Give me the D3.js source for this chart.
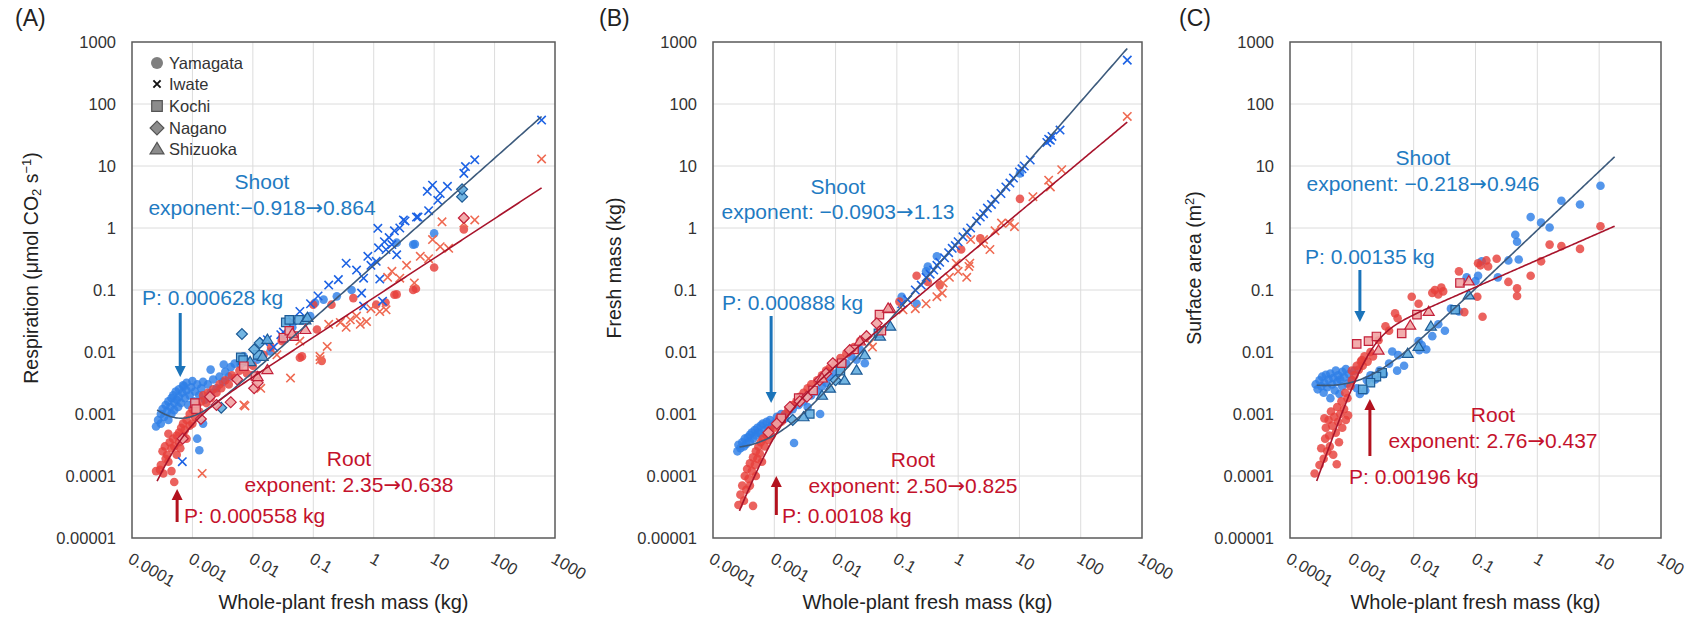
<!DOCTYPE html>
<html>
<head>
<meta charset="utf-8">
<script src="https://cdn.jsdelivr.net/npm/d3@7"></script>
<style>
body { margin: 0; background: #fff; }
svg text { font-family: "Liberation Sans", Arial, sans-serif; }
</style>
</head>
<body>
<svg id="canvas" width="1698" height="624"></svg>
<script>
// ---- axis ticks ----
let massTicks = [1e-4, 1e-3, 1e-2, 1e-1, 1, 10, 100, 1000]
let massTickLabels = ["0.0001", "0.001", "0.01", "0.1", "1", "10", "100", "1000"]
let valueTicks = [1e-5, 1e-4, 1e-3, 1e-2, 1e-1, 1, 10, 100, 1000]
let valueTickLabels = ["0.00001", "0.0001", "0.001", "0.01", "0.1", "1", "10", "100", "1000"]

let siteNames = ["Yamagata", "Iwate", "Kochi", "Nagano", "Shizuoka"]
let siteCodes = ["Y", "I", "K", "N", "S"]

// ---- (A) respiration, [whole-plant mass kg, value, site] ----
let respShoot = [
  [2.5e-4, 6.3e-4, "Y"], [2.7e-4, 8e-4, "Y"], [3e-4, 1e-3, "Y"], [3e-4, 7e-4, "Y"], [3.2e-4, 1.2e-3, "Y"],
  [3.4e-4, 9e-4, "Y"], [3.6e-4, 1.4e-3, "Y"], [3.8e-4, 1.1e-3, "Y"], [4e-4, 1.6e-3, "Y"], [4e-4, 8e-4, "Y"],
  [4.3e-4, 1.3e-3, "Y"], [4.5e-4, 1.8e-3, "Y"], [4.5e-4, 1e-3, "Y"], [4.8e-4, 2e-3, "Y"], [5e-4, 1.5e-3, "Y"],
  [5e-4, 1.15e-3, "Y"], [5.3e-4, 2.3e-3, "Y"], [5.5e-4, 1.7e-3, "Y"], [5.8e-4, 1.3e-3, "Y"], [6e-4, 2.5e-3, "Y"],
  [6e-4, 1.9e-3, "Y"], [6.5e-4, 1.5e-3, "Y"], [6.8e-4, 2.2e-3, "Y"], [7e-4, 2.9e-3, "Y"], [7.2e-4, 2.8e-3, "Y"],
  [7.5e-4, 1.8e-3, "Y"], [8e-4, 2.4e-3, "Y"], [8e-4, 3.2e-3, "Y"], [8.5e-4, 1.4e-3, "Y"], [9e-4, 2e-3, "Y"],
  [9.5e-4, 2.7e-3, "Y"], [1e-3, 3.4e-3, "Y"], [1.05e-3, 1.6e-3, "Y"], [1.1e-3, 2.3e-3, "Y"], [1.2e-3, 3e-3, "Y"],
  [1.3e-3, 2e-3, "Y"], [1.4e-3, 2.6e-3, "Y"], [1.5e-3, 3.3e-3, "Y"], [1.6e-3, 1.7e-3, "Y"], [1.2e-3, 4e-4, "Y"],
  [1.3e-3, 2.6e-4, "Y"], [1.5e-3, 7e-4, "Y"], [1.8e-3, 3e-3, "Y"], [2e-3, 5.2e-3, "Y"], [2e-3, 2.2e-3, "Y"],
  [2.2e-3, 3.6e-3, "Y"], [2.5e-3, 2.6e-3, "Y"], [2.8e-3, 4e-3, "Y"], [3.2e-3, 3.3e-3, "Y"], [3.3e-3, 6.3e-3, "Y"],
  [3.5e-3, 4.8e-3, "Y"], [4e-3, 4e-3, "Y"], [4.3e-3, 5.7e-3, "Y"], [5e-3, 6.5e-3, "Y"], [6.3e-3, 6.3e-3, "Y"],
  [7e-3, 8.5e-3, "Y"], [8e-3, 7e-3, "Y"], [0.0118, 7.5e-3, "Y"], [0.0195, 0.0102, "Y"], [0.032, 0.016, "Y"],
  [0.045, 0.025, "Y"], [0.089, 0.038, "Y"], [0.107, 0.062, "Y"], [0.148, 0.07, "Y"], [0.245, 0.079, "Y"],
  [0.43, 0.1, "Y"], [2.4, 0.58, "Y"], [4.5, 0.54, "Y"], [4.8, 0.55, "Y"], [10, 0.82, "Y"],
  [6.8e-4, 1.7e-4, "I"], [0.0174, 0.0158, "I"], [0.015, 0.0148, "I"], [0.029, 0.019, "I"], [0.032, 0.021, "I"],
  [0.06, 0.045, "I"], [0.09, 0.06, "I"], [0.12, 0.08, "I"], [0.18, 0.12, "I"], [0.26, 0.147, "I"],
  [0.35, 0.27, "I"], [0.52, 0.21, "I"], [0.63, 0.089, "I"], [0.68, 0.055, "I"], [0.68, 0.155, "I"],
  [0.8, 0.35, "I"], [0.9, 0.25, "I"], [1.1, 0.29, "I"], [1.2, 0.48, "I"], [1.26, 0.15, "I"],
  [1.4, 0.066, "I"], [1.5, 0.6, "I"], [1.6, 0.45, "I"], [1.8, 0.7, "I"], [2.0, 0.54, "I"],
  [2.2, 0.9, "I"], [2.4, 0.37, "I"], [1.17, 0.99, "I"], [2.7, 1.0, "I"], [3.1, 1.35, "I"],
  [3.3, 1.3, "I"], [5.1, 1.5, "I"], [5.4, 1.5, "I"], [8.1, 1.9, "I"], [7.7, 3.9, "I"],
  [9.4, 4.9, "I"], [12.6, 3.6, "I"], [16.6, 4.7, "I"], [11.5, 2.8, "I"], [31, 7.6, "I"],
  [33, 9.8, "I"], [47, 12.6, "I"], [600, 55, "I"], [0.045, 0.032, "I"], [0.022, 0.012, "I"],
  [6.3e-3, 8.2e-3, "K"], [6.9e-3, 7.4e-3, "K"], [0.035, 0.03, "K"], [0.04, 0.033, "K"], [0.058, 0.033, "K"], [0.012, 9e-3, "K"],
  [6.6e-3, 0.0195, "N"], [0.0105, 0.011, "N"], [3e-3, 1.26e-3, "N"], [0.013, 0.014, "N"], [29, 3.2, "N"], [29, 4.2, "N"],
  [0.0174, 0.016, "S"], [0.0145, 8.5e-3, "S"], [0.074, 0.033, "S"], [0.08, 0.036, "S"], [9e-3, 7e-3, "S"]
]
let respRoot = [
  [2.5e-4, 1.2e-4, "Y"], [2.9e-4, 1.26e-4, "Y"], [3e-4, 1.5e-4, "Y"], [3.2e-4, 2.5e-4, "Y"], [3.3e-4, 1.1e-4, "Y"],
  [3.5e-4, 3e-4, "Y"], [3.6e-4, 1.9e-4, "Y"], [3.8e-4, 2.2e-4, "Y"], [4e-4, 1.7e-4, "Y"], [4e-4, 4.8e-4, "Y"],
  [4.2e-4, 3.5e-4, "Y"], [4.5e-4, 1.2e-4, "Y"], [4.5e-4, 2.8e-4, "Y"], [4.8e-4, 4e-4, "Y"], [5e-4, 8e-5, "Y"],
  [5e-4, 3e-4, "Y"], [5.5e-4, 4.5e-4, "Y"], [5.5e-4, 2.2e-4, "Y"], [6e-4, 5e-4, "Y"], [6e-4, 3.5e-4, "Y"],
  [6.3e-4, 2.8e-4, "Y"], [6.5e-4, 6e-4, "Y"], [7e-4, 4.5e-4, "Y"], [7e-4, 7e-4, "Y"], [7.5e-4, 5.5e-4, "Y"],
  [8e-4, 8e-4, "Y"], [8e-4, 4e-4, "Y"], [9e-4, 1e-3, "Y"], [9e-4, 6.5e-4, "Y"], [1e-3, 1.2e-3, "Y"],
  [1e-3, 7e-4, "Y"], [1.1e-3, 9e-4, "Y"], [1.2e-3, 1.4e-3, "Y"], [1.3e-3, 1.1e-3, "Y"], [1.4e-3, 1.6e-3, "Y"],
  [1.5e-3, 2e-3, "Y"], [1.7e-3, 1.5e-3, "Y"], [1.8e-3, 2.2e-3, "Y"], [2e-3, 1.8e-3, "Y"], [2.2e-3, 2.5e-3, "Y"],
  [2.5e-3, 2.2e-3, "Y"], [2.8e-3, 3e-3, "Y"], [3e-3, 2.6e-3, "Y"], [3.5e-3, 3.5e-3, "Y"], [4e-3, 3e-3, "Y"],
  [4.5e-3, 4.2e-3, "Y"], [5e-3, 3.8e-3, "Y"], [6e-3, 5e-3, "Y"], [8e-3, 4.5e-3, "Y"], [0.01, 6e-3, "Y"],
  [0.015, 9e-3, "Y"], [0.02, 0.012, "Y"], [0.03, 0.015, "Y"], [0.06, 8.1e-3, "Y"],
  [0.065, 8.5e-3, "Y"], [0.138, 7.2e-3, "Y"], [0.1, 0.058, "Y"], [0.115, 0.023, "Y"], [0.2, 0.058, "Y"],
  [0.46, 0.074, "Y"], [1.1, 0.058, "Y"], [1.57, 0.063, "Y"], [2.2, 0.084, "Y"], [2.4, 0.085, "Y"],
  [4.5, 0.1, "Y"], [5, 0.105, "Y"], [10, 0.23, "Y"], [31, 0.95, "Y"],
  [600, 13, "I"], [13.5, 1.26, "I"], [47, 1.35, "I"], [31, 1.2, "I"], [9.4, 0.65, "I"],
  [12.6, 0.5, "I"], [17.4, 0.47, "I"], [8.1, 0.32, "I"], [5.9, 0.35, "I"], [4.7, 0.13, "I"],
  [1.7, 0.16, "I"], [2.7, 0.155, "I"], [2.0, 0.2, "I"], [3.5, 0.25, "I"], [0.18, 0.028, "I"],
  [0.28, 0.03, "I"], [0.35, 0.025, "I"], [0.41, 0.033, "I"], [0.52, 0.038, "I"], [0.6, 0.028, "I"],
  [0.76, 0.031, "I"], [0.9, 0.05, "I"], [1.26, 0.045, "I"], [1.6, 0.048, "I"], [0.17, 0.0123, "I"],
  [0.13, 7.5e-3, "I"], [0.042, 3.8e-3, "I"], [7.1e-3, 1.4e-3, "I"], [0.0135, 2.6e-3, "I"], [1.45e-3, 1.1e-4, "I"],
  [7.4e-3, 1.35e-3, "I"], [0.129, 8.5e-3, "I"], [0.025, 9e-3, "I"], [0.06, 0.015, "I"],
  [1.1e-3, 1.5e-3, "K"], [1.15e-3, 1.2e-3, "K"], [7.1e-3, 5.9e-3, "K"], [0.032, 0.017, "K"], [0.048, 0.018, "K"],
  [0.011, 4.1e-3, "K"], [0.04, 0.022, "K"],
  [6.9e-4, 4e-4, "N"], [1.38e-3, 8.3e-4, "N"], [4.3e-3, 1.55e-3, "N"], [1.95e-3, 1.9e-3, "N"], [0.0105, 2.6e-3, "N"],
  [5.5e-3, 3.6e-3, "N"], [0.012, 3.2e-3, "N"], [31, 1.45, "N"], [2.5e-3, 1.4e-3, "N"],
  [0.074, 0.023, "S"], [0.0174, 5.2e-3, "S"], [0.045, 0.02, "S"], [0.012, 4e-3, "S"]
]

// ---- (B) fresh mass ----
let massShoot = [
  [2.5e-4, 2.5e-4, "Y"], [2.6e-4, 3.2e-4, "Y"], [2.8e-4, 2.8e-4, "Y"], [3e-4, 3.5e-4, "Y"], [3.2e-4, 3e-4, "Y"],
  [3.3e-4, 4e-4, "Y"], [3.5e-4, 3.3e-4, "Y"], [3.7e-4, 4.2e-4, "Y"], [4e-4, 3.6e-4, "Y"], [4e-4, 4.6e-4, "Y"],
  [4.3e-4, 5e-4, "Y"], [4.5e-4, 4e-4, "Y"], [4.8e-4, 5.5e-4, "Y"], [5e-4, 4.5e-4, "Y"], [5.3e-4, 6e-4, "Y"],
  [5.5e-4, 5e-4, "Y"], [6e-4, 6.5e-4, "Y"], [6e-4, 4.8e-4, "Y"], [6.5e-4, 7e-4, "Y"], [7e-4, 5.5e-4, "Y"],
  [7.5e-4, 7.5e-4, "Y"], [8e-4, 6e-4, "Y"], [8.5e-4, 8e-4, "Y"], [9e-4, 6.5e-4, "Y"], [1e-3, 7e-4, "Y"],
  [1.1e-3, 9e-4, "Y"], [1.2e-3, 7.5e-4, "Y"], [1.3e-3, 1e-3, "Y"], [1.5e-3, 8.5e-4, "Y"], [1.7e-3, 1.1e-3, "Y"],
  [2e-3, 1.2e-3, "Y"], [2.1e-3, 3.4e-4, "Y"], [2.5e-3, 1.4e-3, "Y"], [3e-3, 1.6e-3, "Y"], [3.5e-3, 1.3e-3, "Y"],
  [4e-3, 2e-3, "Y"], [5.6e-3, 1e-3, "Y"], [5e-3, 2.3e-3, "Y"], [6e-3, 2.8e-3, "Y"], [7e-3, 3.2e-3, "Y"],
  [8e-3, 4e-3, "Y"], [0.01, 4.5e-3, "Y"], [0.012, 5.5e-3, "Y"], [0.015, 6.5e-3, "Y"], [0.018, 8.5e-3, "Y"],
  [0.022, 7.5e-3, "Y"], [0.03, 6.6e-3, "Y"], [0.025, 0.011, "Y"], [0.12, 0.078, "Y"], [0.21, 0.06, "Y"],
  [0.32, 0.24, "Y"], [0.3, 0.2, "Y"], [0.45, 0.35, "Y"], [10.2, 7.6, "Y"],
  [0.12, 0.06, "I"], [0.15, 0.07, "I"], [0.2, 0.1, "I"], [0.25, 0.12, "I"], [0.3, 0.16, "I"],
  [0.35, 0.18, "I"], [0.4, 0.21, "I"], [0.45, 0.25, "I"], [0.5, 0.28, "I"], [0.6, 0.33, "I"],
  [0.7, 0.4, "I"], [0.8, 0.47, "I"], [0.9, 0.52, "I"], [1.0, 0.6, "I"], [1.2, 0.72, "I"],
  [1.4, 0.85, "I"], [1.6, 1.0, "I"], [2.0, 1.3, "I"], [2.3, 1.5, "I"], [2.6, 1.7, "I"],
  [3.0, 2.1, "I"], [3.5, 2.4, "I"], [4.0, 2.9, "I"], [5.0, 3.6, "I"], [6.0, 4.6, "I"],
  [7.0, 5.3, "I"], [8.0, 6.4, "I"], [10, 8, "I"], [11, 9, "I"], [12, 10, "I"],
  [15, 12.5, "I"], [28, 24, "I"], [30, 27, "I"], [32, 26, "I"], [34, 30, "I"],
  [46, 38, "I"], [575, 510, "I"],
  [3.8e-3, 1e-3, "K"], [0.012, 5e-3, "K"], [0.05, 0.02, "K"],
  [2e-3, 8e-4, "N"], [0.01, 3.5e-3, "N"],
  [0.078, 0.026, "S"], [0.053, 0.018, "S"], [0.014, 3.5e-3, "S"], [8.1e-3, 2.6e-3, "S"], [3e-3, 9e-4, "S"],
  [0.022, 5.1e-3, "S"], [0.03, 9e-3, "S"], [6e-3, 2e-3, "S"]
]
let massRoot = [
  [2.6e-4, 3.4e-5, "Y"], [2.8e-4, 5e-5, "Y"], [3e-4, 7e-5, "Y"], [3.2e-4, 4e-5, "Y"], [3.3e-4, 1e-4, "Y"],
  [3.5e-4, 6e-5, "Y"], [3.6e-4, 1.3e-4, "Y"], [3.8e-4, 9e-5, "Y"], [4e-4, 1.6e-4, "Y"], [4e-4, 7e-5, "Y"],
  [4.3e-4, 1.2e-4, "Y"], [4.5e-4, 3.3e-5, "Y"], [4.5e-4, 2e-4, "Y"], [4.8e-4, 1.5e-4, "Y"], [5e-4, 2.5e-4, "Y"],
  [5e-4, 1e-4, "Y"], [5.3e-4, 1.9e-4, "Y"], [5.5e-4, 3e-4, "Y"], [5.8e-4, 2.3e-4, "Y"], [6e-4, 3.5e-4, "Y"],
  [6.3e-4, 1.7e-4, "Y"], [6.5e-4, 4e-4, "Y"], [7e-4, 3e-4, "Y"], [7.5e-4, 4.5e-4, "Y"], [8e-4, 3.8e-4, "Y"],
  [8.5e-4, 5.5e-4, "Y"], [9e-4, 4.5e-4, "Y"], [1e-3, 6e-4, "Y"], [1.1e-3, 7e-4, "Y"], [1.2e-3, 8.5e-4, "Y"],
  [1.3e-3, 7.5e-4, "Y"], [1.5e-3, 1e-3, "Y"], [1.7e-3, 1.2e-3, "Y"], [2e-3, 1.4e-3, "Y"], [2.3e-3, 1.6e-3, "Y"],
  [2.6e-3, 1.9e-3, "Y"], [3e-3, 2.2e-3, "Y"], [3.5e-3, 2.6e-3, "Y"], [4e-3, 3e-3, "Y"], [5e-3, 3.5e-3, "Y"],
  [6e-3, 4.2e-3, "Y"], [7e-3, 5e-3, "Y"], [8e-3, 5.5e-3, "Y"], [0.01, 6.5e-3, "Y"], [0.012, 8e-3, "Y"],
  [0.015, 9.5e-3, "Y"], [0.02, 0.012, "Y"], [0.025, 0.015, "Y"], [0.11, 0.065, "Y"], [0.21, 0.17, "Y"],
  [0.32, 0.135, "Y"], [0.5, 0.12, "Y"], [1.12, 0.45, "Y"], [2.3, 0.68, "Y"], [10.2, 2.95, "Y"],
  [575, 63, "I"], [30, 5.9, "I"], [32, 4.6, "I"], [49, 8.7, "I"], [16.6, 3.2, "I"],
  [8.3, 1.05, "I"], [6.9, 1.19, "I"], [5.1, 1.2, "I"], [4, 0.9, "I"], [2.4, 0.56, "I"],
  [2.6, 0.65, "I"], [3.3, 0.45, "I"], [1.6, 0.65, "I"], [1.5, 0.24, "I"], [1.55, 0.27, "I"],
  [1.38, 0.16, "I"], [1.0, 0.2, "I"], [0.93, 0.27, "I"], [0.72, 0.16, "I"], [0.57, 0.13, "I"],
  [0.55, 0.089, "I"], [0.45, 0.078, "I"], [0.3, 0.06, "I"], [0.2, 0.05, "I"], [0.126, 0.048, "I"],
  [0.036, 0.0138, "I"], [0.04, 0.012, "I"],
  [1.3e-3, 8.5e-4, "K"], [4.3e-3, 2.4e-3, "K"], [0.0126, 6.6e-3, "K"], [0.056, 0.022, "K"], [0.052, 0.04, "K"],
  [2.5e-3, 1.8e-3, "K"], [0.02, 0.011, "K"],
  [1.1e-3, 7e-4, "N"], [1.8e-3, 1.3e-3, "N"], [3.4e-3, 1.9e-3, "N"], [5.5e-3, 3.5e-3, "N"], [9e-3, 6.6e-3, "N"],
  [0.017, 0.0107, "N"], [0.032, 0.018, "N"], [0.047, 0.029, "N"], [8e-4, 5e-4, "N"], [2.6e-3, 1.6e-3, "N"],
  [7e-3, 4.5e-3, "N"],
  [0.078, 0.05, "S"], [0.072, 0.051, "S"], [0.025, 0.015, "S"], [6e-3, 3.8e-3, "S"]
]

// ---- (C) surface area ----
let areaShoot = [
  [2.6e-4, 3e-3, "Y"], [2.8e-4, 2.5e-3, "Y"], [3e-4, 3.5e-3, "Y"], [3.2e-4, 2.8e-3, "Y"], [3.3e-4, 4e-3, "Y"],
  [3.5e-4, 2.2e-3, "Y"], [3.6e-4, 3.2e-3, "Y"], [3.8e-4, 4.3e-3, "Y"], [4e-4, 2.7e-3, "Y"], [4.2e-4, 3.6e-3, "Y"],
  [4.5e-4, 1.8e-3, "Y"], [4.5e-4, 4.5e-3, "Y"], [4.8e-4, 3e-3, "Y"], [5e-4, 3.8e-3, "Y"], [5.3e-4, 2.4e-3, "Y"],
  [5.5e-4, 5e-3, "Y"], [5.8e-4, 3.3e-3, "Y"], [6e-4, 4.2e-3, "Y"], [6.3e-4, 2.1e-3, "Y"], [6.5e-4, 3.6e-3, "Y"],
  [7e-4, 4.8e-3, "Y"], [7e-4, 2.8e-3, "Y"], [7.5e-4, 3.9e-3, "Y"], [8e-4, 5.3e-3, "Y"], [8.5e-4, 3.1e-3, "Y"],
  [9e-4, 4.4e-3, "Y"], [1e-3, 3.5e-3, "Y"], [1.1e-3, 5e-3, "Y"], [1.2e-3, 2.6e-3, "Y"], [1.35e-3, 2.1e-3, "Y"],
  [1.65e-3, 2.4e-3, "Y"], [1.75e-3, 3.5e-3, "Y"], [2e-3, 4.2e-3, "Y"], [2.4e-3, 3.6e-3, "Y"], [2.8e-3, 5e-3, "Y"],
  [3.3e-3, 4.4e-3, "Y"], [4e-3, 6.5e-3, "Y"], [4.5e-3, 0.0102, "Y"], [5.4e-3, 5e-3, "Y"], [5.6e-3, 8.9e-3, "Y"],
  [7e-3, 6e-3, "Y"], [0.0123, 0.0107, "Y"], [0.0135, 0.0129, "Y"], [0.012, 0.015, "Y"], [0.016, 0.011, "Y"],
  [0.02, 0.018, "Y"], [0.032, 0.022, "Y"], [0.025, 0.028, "Y"], [0.054, 0.045, "Y"], [0.04, 0.05, "Y"],
  [0.072, 0.16, "Y"], [0.1, 0.14, "Y"], [0.11, 0.17, "Y"], [0.126, 0.29, "Y"], [0.23, 0.16, "Y"],
  [0.34, 0.3, "Y"], [0.5, 0.31, "Y"], [0.44, 0.78, "Y"], [0.47, 0.6, "Y"], [0.78, 1.5, "Y"],
  [1.15, 1.22, "Y"], [1.58, 1.02, "Y"], [2.45, 2.75, "Y"], [4.9, 2.4, "Y"], [10.5, 4.8, "Y"],
  [3.1e-3, 4.6e-3, "K"], [2.5e-3, 4e-3, "K"], [2e-3, 3.2e-3, "K"], [1.5e-3, 2.5e-3, "K"], [0.047, 0.048, "K"],
  [0.012, 0.0123, "S"], [8e-3, 9.5e-3, "S"], [0.019, 0.026, "S"], [0.078, 0.083, "S"]
]
let areaRoot = [
  [2.5e-4, 1.1e-4, "Y"], [3e-4, 1.5e-4, "Y"], [3.2e-4, 2.8e-4, "Y"], [3.5e-4, 1.9e-4, "Y"], [3.6e-4, 8.5e-4, "Y"],
  [3.7e-4, 4e-4, "Y"], [3.8e-4, 6e-4, "Y"], [4e-4, 2.5e-4, "Y"], [4.2e-4, 8e-4, "Y"], [4.3e-4, 4.5e-4, "Y"],
  [4.4e-4, 3e-4, "Y"], [4.6e-4, 1.1e-3, "Y"], [4.8e-4, 6.5e-4, "Y"], [5e-4, 2.2e-4, "Y"], [5.2e-4, 9e-4, "Y"],
  [5.5e-4, 5e-4, "Y"], [5.7e-4, 1.55e-4, "Y"], [5.8e-4, 1.3e-3, "Y"], [6e-4, 7.5e-4, "Y"], [6.2e-4, 3.5e-4, "Y"],
  [6.5e-4, 1e-3, "Y"], [6.8e-4, 1.6e-3, "Y"], [7e-4, 6e-4, "Y"], [7.5e-4, 1.2e-3, "Y"], [8e-4, 8e-4, "Y"],
  [8.5e-4, 1.8e-3, "Y"], [8.7e-4, 9.5e-4, "Y"], [7.8e-4, 2.2e-3, "Y"], [9.5e-4, 2.8e-3, "Y"], [1e-3, 3.5e-3, "Y"],
  [1e-3, 5e-3, "Y"], [1.1e-3, 4.2e-3, "Y"], [1.2e-3, 6e-3, "Y"], [1.3e-3, 5.2e-3, "Y"], [1.4e-3, 7e-3, "Y"],
  [1.45e-3, 7.4e-3, "Y"], [1.5e-3, 6e-3, "Y"], [1.6e-3, 8.5e-3, "Y"], [1.8e-3, 7e-3, "Y"], [2e-3, 0.01, "Y"],
  [2.2e-3, 8.5e-3, "Y"], [2.7e-3, 0.0155, "Y"], [3.5e-3, 0.026, "Y"], [4e-3, 0.022, "Y"], [5e-3, 0.042, "Y"],
  [5.5e-3, 0.035, "Y"], [9.3e-3, 0.078, "Y"], [0.012, 0.06, "Y"], [0.02, 0.09, "Y"], [0.022, 0.1, "Y"],
  [0.025, 0.085, "Y"], [0.03, 0.095, "Y"], [0.028, 0.11, "Y"], [0.054, 0.2, "Y"], [0.066, 0.044, "Y"],
  [0.107, 0.078, "Y"], [0.13, 0.037, "Y"], [0.11, 0.27, "Y"], [0.12, 0.25, "Y"], [0.16, 0.24, "Y"],
  [0.15, 0.3, "Y"], [0.22, 0.32, "Y"], [0.34, 0.135, "Y"], [0.47, 0.107, "Y"], [0.47, 0.08, "Y"],
  [0.78, 0.17, "Y"], [1.15, 0.29, "Y"], [1.58, 0.54, "Y"], [2.45, 0.51, "Y"], [4.9, 0.46, "Y"],
  [10.5, 1.07, "Y"],
  [1.2e-3, 0.0135, "K"], [1.86e-3, 0.015, "K"], [2.5e-3, 0.0178, "K"], [0.0113, 0.04, "K"], [0.056, 0.13, "K"],
  [6.4e-3, 0.02, "K"],
  [8.8e-3, 0.027, "S"], [0.0175, 0.045, "S"], [0.078, 0.14, "S"], [2.7e-3, 0.0107, "S"]
]

// ---- fitted mixed-power curves (shoot: sum, root: harmonic) ----
let shootExponents = [[-0.918, 0.864], [-0.0903, 1.13], [-0.218, 0.946]]
let shootP = [0.000628, 0.000888, 0.00135]
let shootCoef = [0.25, 0.6, 0.925]
let rootExponents = [[2.35, 0.638], [2.50, 0.825], [2.76, 0.437]]
let rootP = [0.000558, 0.00108, 0.00196]
let rootCoef = [0.075, 0.27, 0.304]
let fitRange = [[2.6e-4, 600], [2.7e-4, 575], [2.7e-4, 17.8]]

// ---- texts ----
let panelLabels = ["(A)", "(B)", "(C)"]
let shootTexts = ["exponent:\u22120.918\u21920.864", "exponent: \u22120.0903\u21921.13", "exponent: \u22120.218\u21920.946"]
let rootTexts = ["exponent: 2.35\u21920.638", "exponent: 2.50\u21920.825", "exponent: 2.76\u21920.437"]
let shootPTexts = ["P: 0.000628 kg", "P: 0.000888 kg", "P: 0.00135 kg"]
let rootPTexts = ["P: 0.000558 kg", "P: 0.00108 kg", "P: 0.00196 kg"]
let xTitle = "Whole-plant fresh mass (kg)"

// ---- colours ----
let shootDot = "#2e7fe6"
let shootCross = "#1c62e4"
let shootLight = "#63addf"
let shootEdge = "#1d5b96"
let rootDot = "#e6403a"
let rootCross = "#ef6a52"
let rootLight = "#f1a4a4"
let rootEdge = "#c3203a"
let shootInk = "#1f7bc2"
let rootInk = "#c4122c"
let shootLine = "#3c5a7c"
let rootLine = "#a8142c"

let canvas = d3.select("#canvas")

let layouts = [
  { left: 132, right: 555, xMax: 1e3, labelX: 15, yTitleX: 31, shoot: respShoot, root: respRoot,
    shootLbl: [262, 182, 262, 208, 142, 298, 313, 377], rootLbl: [349, 459, 349, 485, 184, 516, 489, 522] },
  { left: 713, right: 1142, xMax: 1e3, labelX: 599, yTitleX: 614, shoot: massShoot, root: massRoot,
    shootLbl: [838, 187, 838, 212, 722, 303, 316, 403], rootLbl: [913, 460, 913, 486, 782, 516, 476, 515] },
  { left: 1290, right: 1661, xMax: 1e2, labelX: 1179, yTitleX: 1194, shoot: areaShoot, root: areaRoot,
    shootLbl: [1423, 158, 1423, 184, 1305, 257, 270, 322], rootLbl: [1493, 415, 1493, 441, 1349, 477, 399, 456] }
]
let plotTop = 42, plotBottom = 538

let markPath = (site, s) => {
  if (site === "I") return `M${-s},${-s}L${s},${s}M${-s},${s}L${s},${-s}`
  if (site === "K") return `M${-s},${-s}H${s}V${s}H${-s}Z`
  if (site === "N") { let r = s * 1.3; return `M0,${-r}L${r},0L0,${r}L${-r},0Z` }
  if (site === "S") { let r = s * 1.25; return `M0,${-r}L${r * 1.05},${r * 0.75}L${-r * 1.05},${r * 0.75}Z` }
  return ""
}

let drawPoints = (g, data, xs, ys, organ) => {
  let dots = organ === "shoot" ? shootDot : rootDot
  let cross = organ === "shoot" ? shootCross : rootCross
  let light = organ === "shoot" ? shootLight : rootLight
  let edge = organ === "shoot" ? shootEdge : rootEdge

  g.selectAll(null)
    .data(data.filter(d => d[2] === "Y"))
    .enter()
    .append("circle")
    .attr("cx", d => xs(d[0]))
    .attr("cy", d => ys(d[1]))
    .attr("r", 4.3)
    .attr("fill", dots)
    .attr("fill-opacity", 0.82)

  g.selectAll(null)
    .data(data.filter(d => d[2] === "I"))
    .enter()
    .append("path")
    .attr("transform", d => `translate(${xs(d[0])},${ys(d[1])})`)
    .attr("d", d => markPath("I", 4.2))
    .attr("stroke", cross)
    .attr("stroke-width", 1.6)
    .attr("fill", "none")

  g.selectAll(null)
    .data(data.filter(d => d[2] === "K" || d[2] === "N" || d[2] === "S"))
    .enter()
    .append("path")
    .attr("transform", d => `translate(${xs(d[0])},${ys(d[1])})`)
    .attr("d", d => markPath(d[2], 4.2))
    .attr("fill", light)
    .attr("fill-opacity", 0.9)
    .attr("stroke", edge)
    .attr("stroke-width", 1.2)
}

let fitCurve = (m, ex, P, c, kind) => {
  let large = c * Math.pow(m, ex[1])
  let small = c * Math.pow(P, ex[1]) * Math.pow(m / P, ex[0])
  return kind === "sum" ? large + small : 1 / (1 / large + 1 / small)
}

let drawArrow = (g, x, y1, y2, color, down) => {
  let tipY = down ? y2 : y1
  let baseY = down ? y2 - 11 : y1 + 11
  g.append("line")
    .attr("x1", x).attr("x2", x)
    .attr("y1", down ? y1 : baseY)
    .attr("y2", down ? baseY : y2)
    .attr("stroke", color)
    .attr("stroke-width", 3)
  g.append("path")
    .attr("d", `M${x - 5.5},${baseY}L${x + 5.5},${baseY}L${x},${tipY}Z`)
    .attr("fill", color)
}

// text with a wide arrow glyph
let richText = (sel, txt) => {
  txt.split("\u2192").forEach((part, k) => {
    if (k > 0) sel.append("tspan").attr("font-family", "DejaVu Sans").text("\u2192")
    sel.append("tspan").text(part)
  })
}

let drawPanel = (lay, i) => {
  let xs = d3.scaleLog().domain([1e-4, lay.xMax]).range([lay.left, lay.right])
  let ys = d3.scaleLog().domain([1e-5, 1e3]).range([plotBottom, plotTop])
  let g = canvas.append("g")
  let xTickVals = massTicks.filter(t => t <= lay.xMax)

  // grid
  g.selectAll(null).data(xTickVals.slice(1, -1)).enter().append("line")
    .attr("x1", d => xs(d)).attr("x2", d => xs(d))
    .attr("y1", plotTop).attr("y2", plotBottom)
    .attr("stroke", "#dcdcdc").attr("stroke-width", 1)
  g.selectAll(null).data(valueTicks.slice(1, -1)).enter().append("line")
    .attr("x1", lay.left).attr("x2", lay.right)
    .attr("y1", d => ys(d)).attr("y2", d => ys(d))
    .attr("stroke", "#dcdcdc").attr("stroke-width", 1)

  // y tick labels
  g.selectAll(null).data(valueTicks).enter().append("text")
    .attr("x", lay.left - 16)
    .attr("y", d => ys(d))
    .attr("dy", "0.35em")
    .attr("text-anchor", "end")
    .attr("font-size", 16.5)
    .attr("fill", "#333")
    .text((d, k) => valueTickLabels[k])

  // x tick labels, slanted
  g.selectAll(null).data(xTickVals).enter().append("text")
    .attr("transform", d => `translate(${xs(d) - 2},${plotBottom + 19}) rotate(30)`)
    .attr("dy", "0.35em")
    .attr("text-anchor", "start")
    .attr("font-size", 16.5)
    .attr("fill", "#333")
    .text((d, k) => massTickLabels[k])

  // points
  drawPoints(g.append("g"), lay.shoot.filter(d => d[2] === "Y"), xs, ys, "shoot")
  drawPoints(g.append("g"), lay.root.filter(d => d[2] === "Y"), xs, ys, "root")
  drawPoints(g.append("g"), lay.shoot.filter(d => d[2] !== "Y"), xs, ys, "shoot")
  drawPoints(g.append("g"), lay.root.filter(d => d[2] !== "Y"), xs, ys, "root")

  // fitted curves
  let [m0, m1] = fitRange[i]
  let ms = d3.range(0, 201).map(k => m0 * Math.pow(m1 / m0, k / 200))
  let line = d3.line().x(d => xs(d[0])).y(d => ys(d[1]))
  g.append("path")
    .attr("d", line(ms.map(m => [m, fitCurve(m, shootExponents[i], shootP[i], shootCoef[i], "sum")])))
    .attr("fill", "none").attr("stroke", shootLine).attr("stroke-width", 1.6)
  g.append("path")
    .attr("d", line(ms.map(m => [m, fitCurve(m, rootExponents[i], rootP[i], rootCoef[i], "harm")])))
    .attr("fill", "none").attr("stroke", rootLine).attr("stroke-width", 1.6)

  // frame
  g.append("rect")
    .attr("x", lay.left).attr("y", plotTop)
    .attr("width", lay.right - lay.left).attr("height", plotBottom - plotTop)
    .attr("fill", "none").attr("stroke", "#5a5a5a").attr("stroke-width", 1.5)

  // annotations
  let s = lay.shootLbl, r = lay.rootLbl
  let ann = (x, y, txt, color, anchor) => {
    let t = g.append("text")
      .attr("x", x).attr("y", y).attr("dy", "0.35em")
      .attr("text-anchor", anchor).attr("font-size", 21).attr("fill", color)
    richText(t, txt)
  }
  ann(s[0], s[1], "Shoot", shootInk, "middle")
  ann(s[2], s[3], shootTexts[i], shootInk, "middle")
  ann(s[4], s[5], shootPTexts[i], shootInk, "start")
  drawArrow(g, xs(shootP[i]), s[6], s[7], "#1b74ba", true)
  ann(r[0], r[1], "Root", rootInk, "middle")
  ann(r[2], r[3], rootTexts[i], rootInk, "middle")
  ann(r[4], r[5], rootPTexts[i], rootInk, "start")
  drawArrow(g, xs(rootP[i]), r[6], r[7], "#b3121e", false)

  // panel label and axis titles
  g.append("text").attr("x", lay.labelX).attr("y", 18).attr("dy", "0.35em")
    .attr("font-size", 23).attr("fill", "#222").text(panelLabels[i])
  g.append("text")
    .attr("x", (lay.left + lay.right) / 2).attr("y", 602).attr("dy", "0.35em")
    .attr("text-anchor", "middle").attr("font-size", 20).attr("fill", "#222")
    .text(xTitle)

  let yt = g.append("text")
    .attr("transform", `translate(${lay.yTitleX},268) rotate(-90)`)
    .attr("dy", "0.35em").attr("text-anchor", "middle")
    .attr("font-size", 19.5).attr("fill", "#222")
  return yt
}

let yTitles = layouts.map(drawPanel)

yTitles[0].append("tspan").text("Respiration (\u03bcmol CO")
yTitles[0].append("tspan").attr("font-size", 13).attr("baseline-shift", "-25%").text("2")
yTitles[0].append("tspan").text(" s")
yTitles[0].append("tspan").attr("font-size", 13).attr("baseline-shift", "55%").text("\u22121")
yTitles[0].append("tspan").text(")")
yTitles[1].text("Fresh mass (kg)")
yTitles[2].append("tspan").text("Surface area (m")
yTitles[2].append("tspan").attr("font-size", 13).attr("baseline-shift", "55%").text("2")
yTitles[2].append("tspan").text(")")

// legend (panel A)
let legend = canvas.append("g").attr("id", "legend")
let legendY = [63, 84, 106, 128, 149]
siteCodes.forEach((code, k) => {
  let x = 157, y = legendY[k]
  if (code === "Y") {
    legend.append("circle").attr("cx", x).attr("cy", y).attr("r", 6).attr("fill", "#7f7f7f")
  } else if (code === "I") {
    legend.append("path").attr("transform", `translate(${x},${y})`).attr("d", markPath("I", 3.6))
      .attr("stroke", "#111").attr("stroke-width", 1.9).attr("fill", "none")
  } else {
    legend.append("path").attr("transform", `translate(${x},${y})`).attr("d", markPath(code, 5.3))
      .attr("fill", "#8c8c8c").attr("stroke", "#555").attr("stroke-width", 1.2)
  }
  legend.append("text").attr("x", 169).attr("y", y).attr("dy", "0.35em")
    .attr("font-size", 16.5).attr("fill", "#333").text(siteNames[k])
})
</script>
</body>
</html>
